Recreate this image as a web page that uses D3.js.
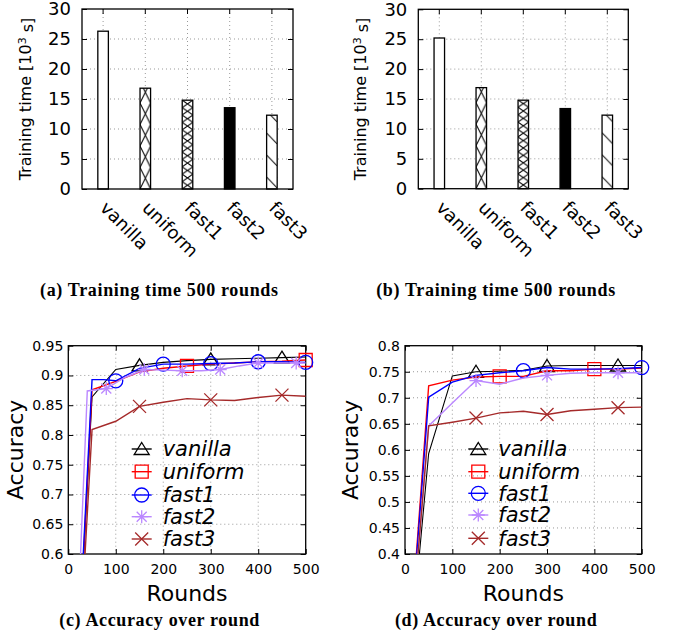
<!DOCTYPE html>
<html>
<head>
<meta charset="utf-8">
<script src="https://d3js.org/d3.v7.min.js"></script>
<style>
  body { margin: 0; background: white; }
  svg { display: block; }
  text { font-family: "DejaVu Sans", sans-serif; fill: black; }
  .caption { font-family: "Liberation Serif", serif; font-weight: bold; }
</style>
</head>
<body>
<svg id="chart"></svg>
<script>
// ---- data ----
const categories = ["vanilla", "uniform", "fast1", "fast2", "fast3"]
const timeA = [26.3, 16.8, 14.8, 13.55, 12.3]
const timeB = [25.2, 16.9, 14.8, 13.4, 12.3]
const timeTicks = [0, 5, 10, 15, 20, 25, 30]

const rounds = [0, 50, 100, 150, 200, 250, 300, 350, 400, 450, 500]
const roundsFast1C = [0, 50, 75, 100, 150, 200, 250, 300, 350, 400, 450, 500]
const roundsFast2C = [0, 40, 80, 120, 160, 200, 240, 280, 320, 360, 400, 440, 480, 500]
const roundTicks = [0, 100, 200, 300, 400, 500]

const vanillaC = [0.1, 0.864, 0.910, 0.917, 0.922, 0.925, 0.927, 0.928, 0.929, 0.930, 0.931]
const uniformC = [0.1, 0.876, 0.890, 0.906, 0.912, 0.916, 0.919, 0.921, 0.923, 0.924, 0.926]
const fast1C = [0.1, 0.893, 0.893, 0.891, 0.912, 0.919, 0.919, 0.920, 0.921, 0.923, 0.923, 0.922]
const fast2C = [0.1, 0.874, 0.878, 0.897, 0.910, 0.909, 0.908, 0.908, 0.910, 0.916, 0.921, 0.921, 0.921, 0.921]
const fast3C = [0.1, 0.809, 0.823, 0.848, 0.855, 0.861, 0.859, 0.858, 0.863, 0.867, 0.865]
const accTicksC = [0.6, 0.65, 0.7, 0.75, 0.8, 0.85, 0.9, 0.95]

const vanillaD = [0.1, 0.593, 0.742, 0.750, 0.751, 0.753, 0.761, 0.762, 0.762, 0.762, 0.762]
const uniformD = [0.1, 0.723, 0.734, 0.740, 0.741, 0.741, 0.752, 0.752, 0.755, 0.755, 0.757]
const fast1D = [0.1, 0.701, 0.730, 0.743, 0.748, 0.752, 0.758, 0.755, 0.755, 0.756, 0.758]
const fast2D = [0.1, 0.646, 0.690, 0.733, 0.726, 0.738, 0.743, 0.747, 0.748, 0.748, 0.748]
const fast3D = [0.1, 0.646, 0.653, 0.661, 0.671, 0.674, 0.668, 0.675, 0.678, 0.681, 0.682]
const accTicksD = [0.4, 0.45, 0.5, 0.55, 0.6, 0.65, 0.7, 0.75, 0.8]

// rounds where a point symbol is drawn
const marksC = { vanilla: [150, 300, 450], uniform: [250, 500], fast1: [100, 200, 300, 400, 500],
                 fast2: [80, 160, 240, 320, 400, 480], fast3: [150, 300, 450] }
const marksD = { vanilla: [150, 300, 450], uniform: [200, 400], fast1: [250, 500],
                 fast2: [150, 300, 450], fast3: [150, 300, 450] }

// ---- styles ----
const styles = {
  vanilla: { color: "#000000", shape: "triangle" },
  uniform: { color: "#ff0000", shape: "square" },
  fast1:   { color: "#0000ff", shape: "circle" },
  fast2:   { color: "#bb88ff", shape: "star" },
  fast3:   { color: "#a52a2a", shape: "cross" }
}

let width = 676, height = 635
let svg = d3.select("#chart").attr("width", width).attr("height", height)
let defs = svg.append("defs")

function grid(g, x1, x2, y1, y2) {
  g.append("line")
    .attr("x1", x1).attr("x2", x2).attr("y1", y1).attr("y2", y2)
    .attr("stroke", "#999").attr("stroke-width", 1).attr("stroke-dasharray", "1,3")
}

function caption(text, cx, cy, len) {
  svg.append("text").attr("class", "caption")
    .attr("x", cx).attr("y", cy).attr("dy", "0.33em")
    .attr("text-anchor", "middle").style("font-size", "18px")
    .attr("textLength", len).attr("lengthAdjust", "spacing")
    .text(text)
}

// ---- bar panels ----
function barPanel(id, box, values, labelX, cap) {
  let x = d3.scaleLinear().domain([-0.5, 4.5]).range([box.left, box.right])
  let y = d3.scaleLinear().domain([0, 30]).range([box.bottom, box.top])
  let g = svg.append("g")
  let bw = x(0.125) - x(-0.125)

  timeTicks.slice(1, -1).forEach(t => grid(g, box.left, box.right, y(t), y(t)))
  categories.forEach((c, i) => grid(g, x(i), x(i), box.top, box.bottom))

  // fill patterns
  values.forEach((v, i) => {
    let x0 = x(i) - bw / 2
    let p, th
    if (i == 1) {
      th = 21.5
      p = defs.append("pattern").attr("id", id + i)
      p.append("path").attr("d", `M0,0L${bw},${th}M${bw},0L0,${th}`)
    } else if (i == 2) {
      th = 7.4
      p = defs.append("pattern").attr("id", id + i)
      p.append("path").attr("d", `M0,0L${bw},${th}M${bw},0L0,${th}`)
    } else if (i == 4) {
      th = 22
      p = defs.append("pattern").attr("id", id + i)
      p.append("path").attr("d", `M0,${th - 12}L${bw},${th - 1}`)
    }
    if (p) {
      p.attr("patternUnits", "userSpaceOnUse").attr("x", x0).attr("y", box.bottom)
        .attr("width", bw).attr("height", th)
      p.insert("rect", "path").attr("width", bw).attr("height", th).attr("fill", "white")
      p.select("path").attr("stroke", "black").attr("stroke-width", 1).attr("fill", "none")
    }
  })

  g.selectAll("rect.bar").data(values).join("rect")
    .attr("class", "bar")
    .attr("x", (d, i) => x(i) - bw / 2)
    .attr("y", d => y(d))
    .attr("width", bw)
    .attr("height", d => y(0) - y(d))
    .attr("fill", (d, i) => i == 0 ? "white" : i == 3 ? "black" : `url(#${id + i})`)
    .attr("stroke", "black").attr("stroke-width", 1.3)

  g.append("rect")
    .attr("x", box.left).attr("y", box.top)
    .attr("width", box.right - box.left).attr("height", box.bottom - box.top)
    .attr("fill", "none").attr("stroke", "black").attr("stroke-width", 1.3)

  let ax = g.append("g").attr("transform", `translate(${box.left},0)`)
    .call(d3.axisLeft(y).tickValues(timeTicks).tickSize(-5).tickPadding(11))
  ax.select(".domain").remove()
  ax.selectAll("text").style("font-size", "18px").attr("font-family", "DejaVu Sans")
  let axr = g.append("g").attr("transform", `translate(${box.right},0)`)
    .call(d3.axisRight(y).tickValues(timeTicks).tickSize(-5).tickFormat(""))
  axr.select(".domain").remove()
  categories.forEach((c, i) => {
    g.append("line").attr("x1", x(i)).attr("x2", x(i))
      .attr("y1", box.top).attr("y2", box.top + 5).attr("stroke", "black")
    g.append("text")
      .attr("transform", `translate(${x(i) - 4},${box.bottom + 20}) rotate(45)`)
      .style("font-size", "18px")
      .text(c)
  })

  let yl = g.append("text")
    .attr("transform", `translate(${labelX},${(box.top + box.bottom) / 2}) rotate(-90)`)
    .attr("text-anchor", "middle").attr("dy", "0.35em")
    .style("font-size", "16px")
  yl.append("tspan").text("Training time [10")
  yl.append("tspan").attr("dy", "-0.45em").style("font-size", "11px").text("3")
  yl.append("tspan").attr("dy", "0.45em").text(" s]")

  caption(cap[0], cap[1], 290, cap[2])
}

barPanel("pa", { left: 82, right: 293, top: 9, bottom: 189 }, timeA, 25,
  ["(a) Training time 500 rounds", 159, 238])
barPanel("pb", { left: 418.3, right: 628.3, top: 9.3, bottom: 188.7 }, timeB, 360,
  ["(b) Training time 500 rounds", 495.7, 239])

// ---- point symbols ----
function symbol(g, shape, cx, cy, color) {
  let s = g.append("path").attr("fill", "none").attr("stroke", color).attr("stroke-width", 1.3)
  let r = 6.5
  if (shape == "triangle") s.attr("d", `M${cx},${cy - 6.5}L${cx + 7.5},${cy + 5.5}L${cx - 7.5},${cy + 5.5}Z`)
  if (shape == "square") s.attr("d", `M${cx - r},${cy - r}h${2 * r}v${2 * r}h${-2 * r}Z`)
  if (shape == "circle") s.attr("d", d3.arc()({ innerRadius: 0, outerRadius: 7, startAngle: 0, endAngle: 2 * Math.PI })).attr("transform", `translate(${cx},${cy})`)
  if (shape == "star") s.attr("d", `M${cx - r},${cy}h${2 * r}M${cx},${cy - r}v${2 * r}M${cx - 5},${cy - 5}l10,10M${cx + 5},${cy - 5}l-10,10`)
  if (shape == "cross") s.attr("d", `M${cx - r},${cy - r}l${2 * r},${2 * r}M${cx + r},${cy - r}l${-2 * r},${2 * r}`)
}

// ---- line panels ----
function linePanel(id, box, yDomain, yTicks, series, marks, legend, labelX, cap) {
  let x = d3.scaleLinear().domain([0, 500]).range([box.left, box.right])
  let y = d3.scaleLinear().domain(yDomain).range([box.bottom, box.top])
  let g = svg.append("g")

  yTicks.slice(1, -1).forEach(t => grid(g, box.left, box.right, y(t), y(t)))
  roundTicks.slice(1, -1).forEach(t => grid(g, x(t), x(t), box.top, box.bottom))

  g.append("rect")
    .attr("x", box.left).attr("y", box.top)
    .attr("width", box.right - box.left).attr("height", box.bottom - box.top)
    .attr("fill", "none").attr("stroke", "black").attr("stroke-width", 1.3)

  let fmt = d3.format("~g")
  let ax = g.append("g").attr("transform", `translate(${box.left},0)`)
    .call(d3.axisLeft(y).tickValues(yTicks).tickFormat(fmt).tickSize(-5).tickPadding(5))
  let axr = g.append("g").attr("transform", `translate(${box.right},0)`)
    .call(d3.axisRight(y).tickValues(yTicks).tickFormat("").tickSize(-5))
  let axb = g.append("g").attr("transform", `translate(0,${box.bottom})`)
    .call(d3.axisBottom(x).tickValues(roundTicks).tickSize(-5).tickPadding(10))
  let axt = g.append("g").attr("transform", `translate(0,${box.top})`)
    .call(d3.axisTop(x).tickValues(roundTicks).tickFormat("").tickSize(-5))
  ;[ax, axr, axb, axt].forEach(a => a.select(".domain").remove())
  ;[ax, axb].forEach(a => a.selectAll("text").style("font-size", "14px").attr("font-family", "DejaVu Sans"))

  defs.append("clipPath").attr("id", id + "clip").append("rect")
    .attr("x", box.left).attr("y", box.top)
    .attr("width", box.right - box.left).attr("height", box.bottom - box.top)

  let line = d3.line().x(d => x(d[0])).y(d => y(d[1]))
  series.forEach(s => {
    let pts = s.rounds.map((r, i) => [r, s.values[i]])
    g.append("path").attr("clip-path", `url(#${id}clip)`)
      .attr("d", line(pts)).attr("fill", "none")
      .attr("stroke", styles[s.name].color).attr("stroke-width", s.name == "vanilla" ? 1.1 : 1.4)
    marks[s.name].forEach(r => {
      let v = s.values[s.rounds.indexOf(r)]
      symbol(g, styles[s.name].shape, x(r), y(v), styles[s.name].color)
    })
  })

  series.forEach((s, i) => {
    let ly = legend.y[i]
    g.append("line").attr("x1", legend.x).attr("x2", legend.x + 20)
      .attr("y1", ly).attr("y2", ly)
      .attr("stroke", styles[s.name].color).attr("stroke-width", 1.4)
    symbol(g, styles[s.name].shape, legend.x + 10, ly, styles[s.name].color)
    g.append("text").attr("x", legend.tx).attr("y", ly).attr("dy", "0.35em")
      .style("font-size", "21px").style("font-style", "italic")
      .text(s.name)
  })

  g.append("text")
    .attr("transform", `translate(${labelX},${(box.top + box.bottom) / 2}) rotate(-90)`)
    .attr("text-anchor", "middle").attr("dy", "0.35em")
    .style("font-size", "22px").text("Accuracy")
  g.append("text")
    .attr("x", (box.left + box.right) / 2).attr("y", 593.3).attr("dy", "0.35em")
    .attr("text-anchor", "middle").style("font-size", "22px").text("Rounds")

  caption(cap[0], cap[1], 620.5, cap[2])
}

linePanel("pc", { left: 68.3, right: 305.7, top: 345.7, bottom: 554 }, [0.6, 0.95], accTicksC, [
  { name: "vanilla", rounds: rounds, values: vanillaC },
  { name: "uniform", rounds: rounds, values: uniformC },
  { name: "fast1", rounds: roundsFast1C, values: fast1C },
  { name: "fast2", rounds: roundsFast2C, values: fast2C },
  { name: "fast3", rounds: rounds, values: fast3C }
], marksC, { x: 131.7, tx: 162.7, y: [449, 471.7, 495, 516.7, 539] }, 15,
  ["(c) Accuracy over round", 159.3, 200])

linePanel("pd", { left: 405, right: 641.7, top: 345.7, bottom: 554 }, [0.4, 0.8], accTicksD, [
  { name: "vanilla", rounds: rounds, values: vanillaD },
  { name: "uniform", rounds: rounds, values: uniformD },
  { name: "fast1", rounds: rounds, values: fast1D },
  { name: "fast2", rounds: rounds, values: fast2D },
  { name: "fast3", rounds: rounds, values: fast3D }
], marksD, { x: 468.3, tx: 498.3, y: [449, 471.7, 493.3, 515, 538.3] }, 350,
  ["(d) Accuracy over round", 495.8, 201.7])
</script>
</body>
</html>
